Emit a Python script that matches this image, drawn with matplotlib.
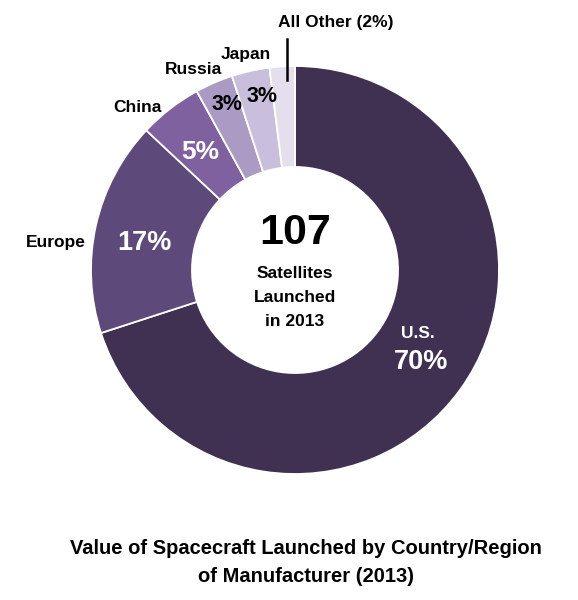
import matplotlib
matplotlib.use("Agg")
import matplotlib.pyplot as plt

plt.rcParams['font.family'] = ['Liberation Sans', 'DejaVu Sans']
plt.rcParams['font.weight'] = 'bold'

# data
countries = ['U.S.', 'Europe', 'China', 'Russia', 'Japan', 'All Other']
shares = [70, 17, 5, 3, 3, 2]
colors = ['#403052', '#5e4a7a', '#7e619e', '#aa9ac4', '#c9bedc', '#e5dfed']
total_sats = 107

W, H = 578, 600
fig = plt.figure(figsize=(W / 100, H / 100), dpi=100)
ax = fig.add_axes([0, 0, 1, 1])

cx, cy, R = 295, 270, 204
# y axis is flipped, so counterclock=True draws clockwise on screen
ax.pie(shares, colors=colors, startangle=-90, counterclock=True,
       center=(cx, cy), radius=R, frame=True,
       wedgeprops=dict(width=R * 0.495, edgecolor='white', linewidth=1.3))
ax.set_xlim(0, W)
ax.set_ylim(H, 0)
ax.set_aspect('equal')
ax.axis('off')

# outside labels
ax.text(56, 243, countries[1], fontsize=12.5, ha='center', va='center')
ax.text(137, 108, countries[2], fontsize=12.5, ha='center', va='center')
ax.text(194, 69, countries[3], fontsize=12.5, ha='center', va='center')
ax.text(246, 55, countries[4], fontsize=12.5, ha='center', va='center')
ax.text(336, 22, f'{countries[5]} ({shares[5]}%)', fontsize=12.5, ha='center', va='center')
ax.plot([287, 287], [39, 80], color='black', lw=1.8)

# inside labels
ax.text(418, 333, countries[0], fontsize=12.5, color='white', ha='center', va='center')
ax.text(421, 362, f'{shares[0]}%', fontsize=19.5, color='white', ha='center', va='center')
ax.text(144, 243, f'{shares[1]}%', fontsize=19.5, color='white', ha='center', va='center')
ax.text(200, 152, f'{shares[2]}%', fontsize=19, color='white', ha='center', va='center')
ax.text(227, 105, f'{shares[3]}%', fontsize=15.5, color='black', ha='center', va='center')
ax.text(262, 97, f'{shares[4]}%', fontsize=15.5, color='black', ha='center', va='center')

# centre
ax.text(cx, 233, str(total_sats), fontsize=31, ha='center', va='center')
ax.text(cx, 273, 'Satellites', fontsize=12.5, ha='center', va='center')
ax.text(cx, 297, 'Launched', fontsize=12.5, ha='center', va='center')
ax.text(cx, 322, 'in 2013', fontsize=12.5, ha='center', va='center')

ax.text(306, 562, 'Value of Spacecraft Launched by Country/Region\nof Manufacturer (2013)',
        fontsize=14.5, ha='center', va='center', linespacing=1.6)

fig.savefig('out.png', dpi=100)
